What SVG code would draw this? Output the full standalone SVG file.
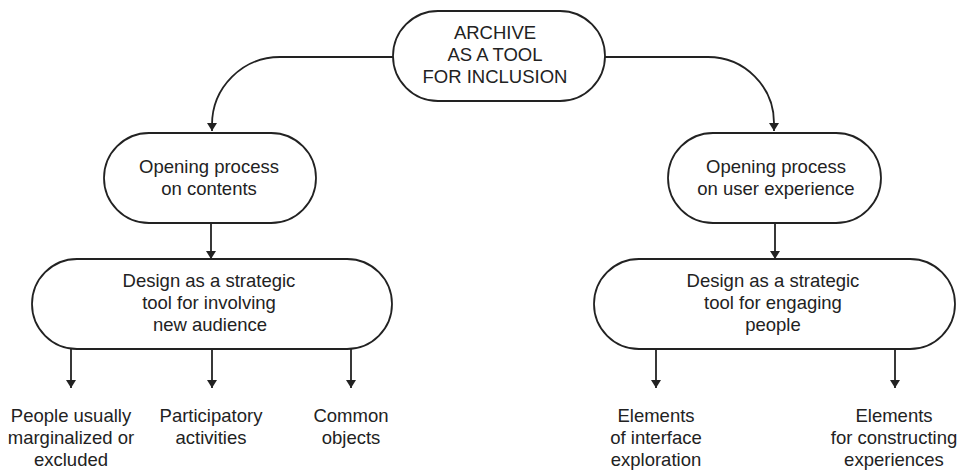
<svg xmlns="http://www.w3.org/2000/svg" width="975" height="471" viewBox="0 0 975 471">
<style>
.node{fill:#fff;stroke:#222;stroke-width:1.8}
.lbl{font-family:"Liberation Sans",Arial,sans-serif;font-size:18.5px;fill:#222;text-anchor:middle}
.edge{fill:none;stroke:#222;stroke-width:1.8;marker-end:url(#ah)}
</style>
<defs>
<marker id="ah" viewBox="0 0 8 10" refX="8" refY="5" markerWidth="8" markerHeight="10" markerUnits="userSpaceOnUse" orient="auto">
<path d="M0,0 L8,5 L0,10 z" fill="#222"/>
</marker>
</defs>
<rect width="975" height="471" fill="#fff"/>
<g id="connectors">
<path class="edge" d="M393,57 H280 A68,68 0 0 0 212,125 V131"/>
<path class="edge" d="M605,57 H708 A66,66 0 0 1 774,123 V131"/>
<path class="edge" d="M211,223 V259"/>
<path class="edge" d="M775,223 V259"/>
<path class="edge" d="M71,349 V388"/>
<path class="edge" d="M212,349 V388"/>
<path class="edge" d="M351,349 V388"/>
<path class="edge" d="M656,349 V388"/>
<path class="edge" d="M895,349 V388"/>
</g>
<g id="n-archive">
<rect class="node" x="393" y="11" width="212" height="90" rx="45"/>
<text class="lbl" x="495" y="39">ARCHIVE</text>
<text class="lbl" x="495" y="61">AS A TOOL</text>
<text class="lbl" x="495" y="83">FOR INCLUSION</text>
</g>
<g id="n-open-contents">
<rect class="node" x="104" y="133" width="212" height="90" rx="45"/>
<text class="lbl" x="209" y="173">Opening process</text>
<text class="lbl" x="209" y="195">on contents</text>
</g>
<g id="n-open-ux">
<rect class="node" x="668" y="133" width="213" height="90" rx="45"/>
<text class="lbl" x="776" y="173">Opening process</text>
<text class="lbl" x="776" y="195">on user experience</text>
</g>
<g id="n-design-audience">
<rect class="node" x="32" y="259" width="360" height="90" rx="45"/>
<text class="lbl" x="209" y="287">Design as a strategic</text>
<text class="lbl" x="209" y="309">tool for involving</text>
<text class="lbl" x="210" y="331">new audience</text>
</g>
<g id="n-design-people">
<rect class="node" x="594" y="259" width="361" height="90" rx="45"/>
<text class="lbl" x="773" y="287">Design as a strategic</text>
<text class="lbl" x="773" y="309">tool for engaging</text>
<text class="lbl" x="773" y="331">people</text>
</g>
<g id="n-people">
<text class="lbl" x="71" y="422">People usually</text>
<text class="lbl" x="71" y="444">marginalized or</text>
<text class="lbl" x="71" y="466">excluded</text>
</g>
<g id="n-participatory">
<text class="lbl" x="211" y="422">Participatory</text>
<text class="lbl" x="211" y="444">activities</text>
</g>
<g id="n-common">
<text class="lbl" x="351" y="422">Common</text>
<text class="lbl" x="351" y="444">objects</text>
</g>
<g id="n-interface">
<text class="lbl" x="656" y="422">Elements</text>
<text class="lbl" x="656" y="444">of interface</text>
<text class="lbl" x="656" y="466">exploration</text>
</g>
<g id="n-constructing">
<text class="lbl" x="894" y="422">Elements</text>
<text class="lbl" x="894" y="444">for constructing</text>
<text class="lbl" x="894" y="466">experiences</text>
</g>
</svg>
